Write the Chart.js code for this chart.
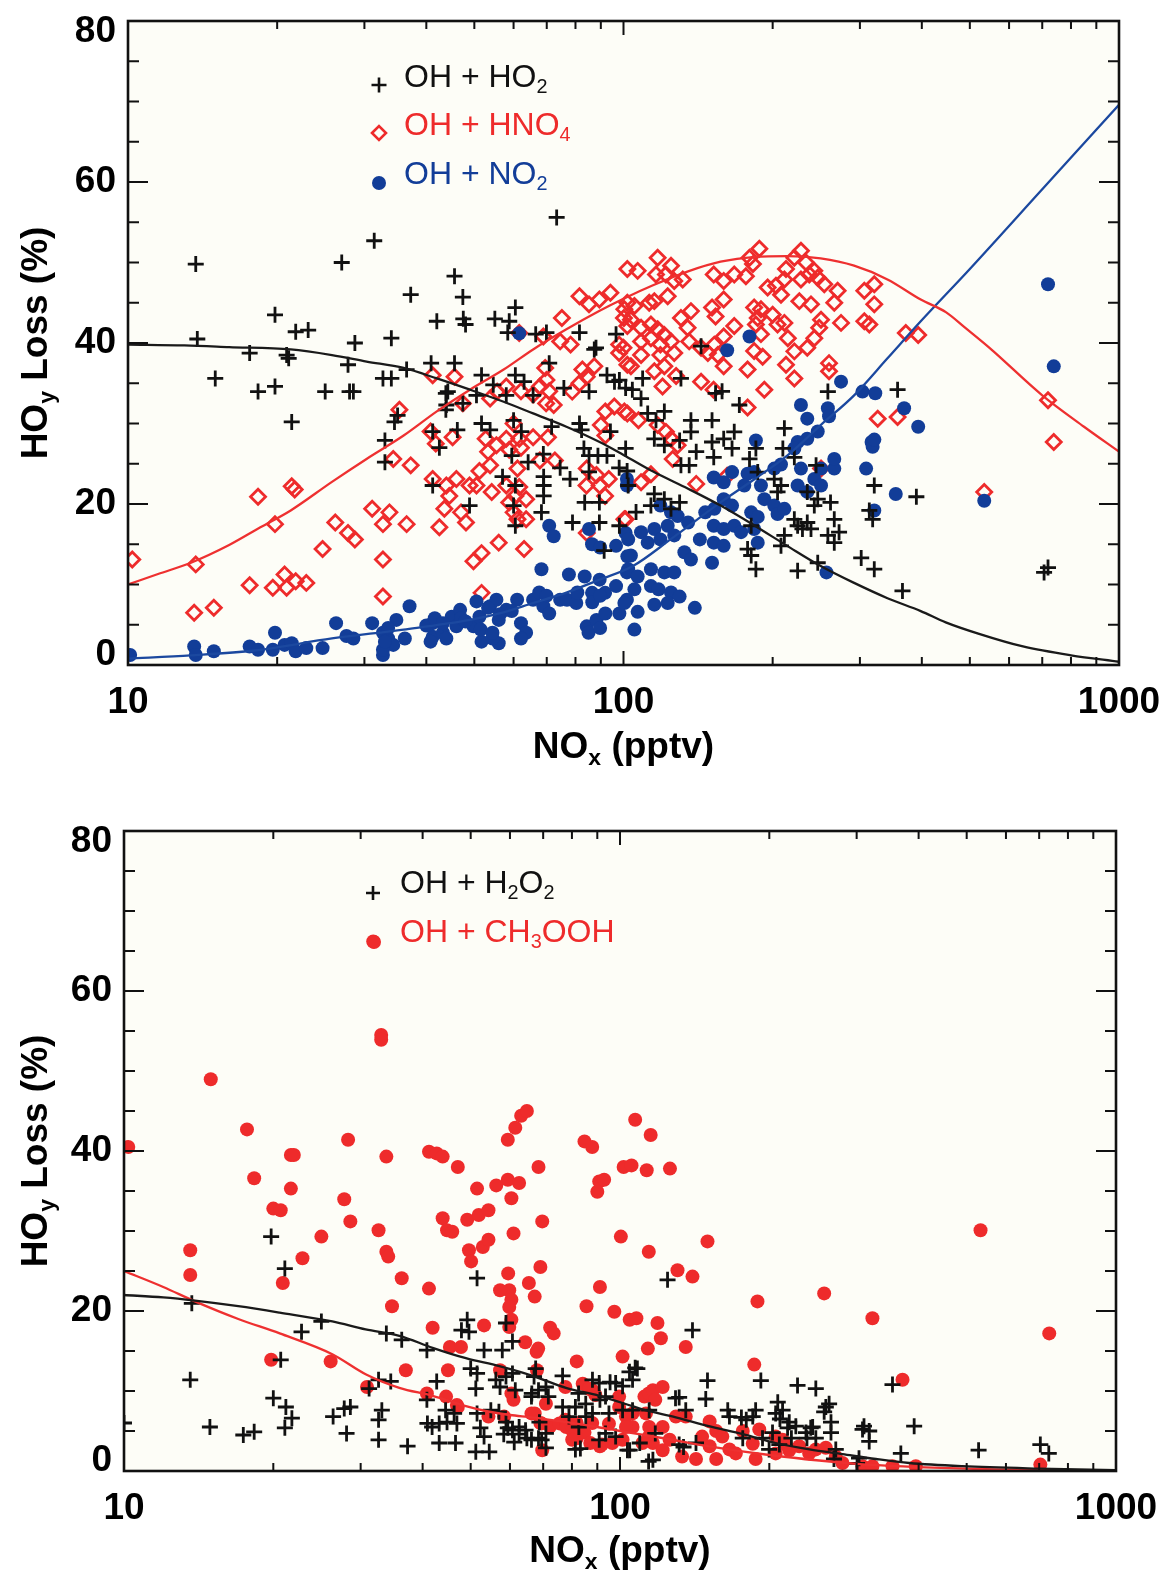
<!DOCTYPE html>
<html><head><meta charset="utf-8">
<script src="https://cdn.jsdelivr.net/npm/chart.js@4.4.1/dist/chart.umd.min.js"></script>
<style>
html,body{margin:0;padding:0;background:#fff;}
#wrap{position:relative;width:1165px;height:1577px;overflow:hidden;background:#fff;}
canvas{position:absolute;left:0;}
#c1{top:0;} #c2{top:790px;}
</style></head><body>
<div id="wrap"><canvas id="c1" width="1165" height="790"></canvas><canvas id="c2" width="1165" height="787"></canvas></div>
<script>
// ---------- axis ticks ----------
const xTickValues = [10,20,30,40,50,60,70,80,90,100,200,300,400,500,600,700,800,900,1000];
const xLabelValues = [10,100,1000];
const yTickValues = [0,5,10,15,20,25,30,35,40,45,50,55,60,65,70,75,80];
const yLabelValues = [0,20,40,60,80];

// ---------- top panel: [NOx pptv, HOy loss %] ----------
const topHO2Points = [
[13.7,49.8],[73.3,55.6],[31.4,52.7],[27,50.0],[45.6,48.3],[37.2,46.0],[47.4,45.7],[60.5,44.4],[42,42.7],[47.5,43],[48,42.3],[55,43],[58.8,42.7],[58.4,41.3],[66.5,41.1],[69.9,41.3],[81.5,41.3],[96.6,41.1],[28.7,40.0],[34.0,40.6],[88,39.4],[19.8,43.5],[21.8,41.4],[23.1,41.6],[13.8,40.5],[17.6,38.75],[20.9,38.5],[21.1,38.1],[15.0,35.6],[18.3,33.96],[19.8,34.6],[25,33.96],[28,33.96],[21.4,30.2],[27.8,37.3],
[32.7,35.6],[34.0,35.6],[36.5,36.7],[40.9,37.5],[45.6,37.5],[28.5,33.96],[51.7,36.0],[60.5,36.0],[70.8,37.5],[44.2,33.96],[50.5,33.5],[54.6,34.8],[58,33.5],[63,35.2],[65.7,33.5],[75.8,34.4],[85.2,33.96],[92.6,36.0],[98.1,35.4],[43.9,32.3],[47.4,32.5],[35,31.0],[34.5,30.2],[41.2,29.0],[46.2,29.2],[51.7,30.0],[53.8,29.2],[60,30.4],[62.2,29.0],[71.6,29.6],[81.5,30.0],[82.3,29.2],[94.1,29.0],[33,27.9],[42.5,27.0],[33,25.2],[59.5,26.0],[64.2,25.2],[68.9,26.2],[74.5,24.5],[85.2,26.0],[92.6,26.0],[101,26.9],[98,24.5],[101.7,24.1],[57,23.4],[69,23.4],[78,23.1],[41.2,22.3],[60.5,22.3],[69,22.3],[85.2,24.0],[69,21.0],[83.5,20.2],[89.4,20.2],[48.9,19.8],[68.3,18.96],[60,19.8],[89.4,17.7],[60.5,17.3],[98.1,17.3],[91.4,14.2],
[43.8,33.75],[43.8,31.7],[87.3,39.2],[95.9,35.2],[101,34.4],[83.2,26.9],[88.8,26.0],[78.9,17.7],
[143.4,39.6],[104.2,34.2],[109.3,35.6],[108.5,33.1],[130.6,35.6],[158.1,34.0],[153.4,33.75],[171.3,32.3],[258.5,33.96],[357.4,34.2],[111.9,31.25],[116.3,30.4],[120.9,31.5],[136.8,30.4],[150.9,30.4],[115.4,28.1],[120.9,27.3],[129.8,27.9],[136.8,28.96],[140.2,26.5],[150.9,27.7],[152.1,25.8],[159.3,28.1],[165.6,26.9],[167.3,28.96],[130.6,24.8],[135.7,24.8],[179.6,25.6],[185.0,26.9],[186.6,23.96],[211.2,29.4],[209.7,26.9],[221.2,25.8],[201.5,23.1],[204.6,21.5],[207.9,22.3],[244.7,24.8],[246.6,20.6],[234.9,21.5],[320.7,22.3],[313.4,19.2],[318.3,18.1],[390,20.9],[242.7,19.8],[261.7,20.2],[266.3,18.1],[221.2,18.1],[224.6,17.3],[229.7,16.9],[234.9,17.7],[239,16.9],[258.5,16.1],[272.3,16.5],[266.3,15.2],[211.2,16.1],[207.9,14.8],[181,17.3],[178,14.4],[181,13.6],[185,11.9],[224.6,11.7],[246.6,12.7],[301.8,13.3],[320.7,11.9],[365.6,9.2],[102.2,22.3],[115.4,21.25],[120.9,20.6],[129.8,20.2],[106,19.0],[113.6,19.8],[124.7,19.4],
[719,12.1],[706,11.5]
];
const topHNO4Points = [
[10.2,13.1],[13.7,12.5],[13.6,6.5],[14.9,7.1],[17.6,9.9],[19.6,9.6],[20.7,11.25],[20.9,9.6],[21.8,10.4],[22.9,10.2],[19.8,17.5],[18.3,20.9],[21.4,22.2],[21.7,21.8],[24.7,14.4],
[101.8,49.2],[81.5,45.8],[85.2,44.8],[89.4,45.4],[94.1,46.25],[101.8,45.0],[100.2,43.1],[101.8,42.1],[75.1,43.1],[61.6,41.25],[68.9,40.8],[74.5,40.2],[78.2,39.8],[98,39.8],[98,38.75],[101.8,37.3],[87.3,37.1],[82.6,36.7],[69.5,36.9],[41.2,36.0],[45.6,35.8],[69.9,35.4],[67.8,34.6],[70.8,34.0],[65.7,33.6],[62.1,34.0],[58,34.6],[55.6,33.96],[53.8,33.1],[78.8,33.96],[81.5,35.0],[84.3,35.8],[47.4,32.5],[69.8,32.5],[72.3,32.3],[35.3,31.7],[95.8,32.1],[91.9,31.5],[101.8,31.25],[90,29.8],[91.9,28.5],[60,30.0],[40.8,29.0],[45.2,28.3],[41.8,27.5],[58,28.1],[61.6,28.1],[65.7,28.3],[70.4,28.3],[52.7,28.1],[55.4,27.3],[53.3,26.5],[58.8,26.75],[62.1,27.0],[34.3,25.6],[37.2,24.8],[67.8,25.4],[72.7,25.4],[53.8,24.8],[51.2,24.1],[61.1,24.4],[84.3,24.4],[88.2,23.6],[93.4,23.1],[41.2,23.1],[43.9,22.3],[46,23.1],[48.9,22.3],[50.5,22.3],[54.2,21.5],[58,22.3],[61.6,22.1],[60.5,21.0],[63.6,20.6],[58.8,20.2],[60,18.96],[84.2,22.3],[89.5,22.3],[91.8,21.0],[44.5,21.0],[43.5,19.4],[47,18.96],[48.1,17.7],[31.1,19.4],[33.7,18.96],[32.7,17.5],[36.5,17.5],[26.2,17.7],[27.8,16.4],[28.7,15.6],[42.5,17.1],[61.1,18.1],[63.6,18.1],[84.3,16.4],[101,18.1],[56.0,15.2],[63,14.4],[32.7,13.1],[49.8,12.9],[51.7,13.9],[32.7,8.5],[51.7,8.96],
[188,51.7],[179.6,50.6],[182.5,49.8],[228.1,51.45],[221.2,50.6],[233.5,50.0],[242.7,48.96],[117.2,50.6],[124.7,49.6],[121.8,48.5],[126.6,47.7],[131.7,47.9],[106.8,48.96],[116.3,48.5],[122.8,45.8],[115.4,45.2],[152.1,48.5],[159.3,47.7],[167.3,48.5],[176.6,48.3],[212.8,49.2],[211.2,47.9],[228.1,47.9],[237.1,48.5],[246.6,48.1],[254.2,47.3],[270.5,46.5],[266.3,45.0],[195.4,46.9],[203.1,47.1],[207.9,46.0],[306.2,46.5],[320.7,47.3],[320.7,44.8],[306.2,42.7],[313.4,42.3],[159.3,45.4],[150.9,44.4],[153.4,43.3],[112.7,45.0],[105.2,44.6],[100.4,44.2],[130.6,43.1],[136.8,43.96],[134.7,41.9],[183.5,44.4],[189.4,44.2],[186.6,43.1],[200,43.5],[204.6,42.3],[211.2,42.5],[226.4,45.2],[239,44.8],[250.4,42.9],[248.3,41.9],[274.8,42.5],[103.5,42.9],[108.5,41.9],[113.6,42.3],[117.2,41.7],[120.9,41.0],[108.5,40.2],[113.6,40.6],[118.7,39.8],[124.7,40.2],[118.7,38.5],[126.6,38.75],[120.9,37.1],[100,39.4],[103.5,37.1],[108.5,38.5],[115.4,36.5],[119.9,34.6],[127.7,35.9],[135.7,40.2],[143.4,39.4],[152.5,39.8],[159.3,40.8],[148,38.75],[155,38.5],[159.3,37.1],[143.4,35.2],[152,34.2],[167.3,42.1],[185,42.3],[189.4,41.1],[183.5,39.0],[190.9,38.3],[178,36.7],[192.4,34.2],[214.6,40.6],[221.2,38.96],[234.9,39.4],[242.7,40.6],[212.8,37.3],[221.2,35.6],[259.9,37.5],[259.9,36.5],[178,32.0],[325.9,30.6],[357.4,30.8],[371.3,41.25],[393.3,41.0],[100.4,31.5],[107.2,30.4],[117.2,29.8],[121.8,28.96],[124.7,28.1],[128.6,27.3],[125.7,25.6],[113.6,23.7],[108.5,22.7],[100.4,18.1],[140.2,22.5],[161.9,23.5],[250.4,24.4],
[719,32.9],[738.5,27.7],[534.6,21.5]
];
const topNO2Points = [
[10.1,1.25],[13.6,2.3],[13.7,1.25],[14.9,1.7],[17.6,2.3],[18.3,1.9],[19.8,4.0],[19.6,1.9],[20.7,2.5],[21.4,2.7],[21.8,1.7],[22.9,2.1],[24.7,2.1],
[26.3,5.2],[27.6,3.6],[28.5,3.3],[31.1,5.2],[32.7,4.0],[33.5,3.3],[34.3,2.5],[32.7,1.25],[34.8,5.6],[37,7.3],[36.2,3.3],[41.2,5.2],[41.2,3.5],[43.2,4.0],[45,6.0],[46,4.8],[46.8,6.85],[49.8,4.8],[51.2,6.0],[53.8,7.3],[55.4,8.1],[56,5.6],[58,6.85],[51.7,2.9],[56,2.7],[61,8.1],[62.1,5.2],[63.6,4.0],[62.1,3.3],[65.7,8.1],[68.9,7.3],[70.8,6.4],[68.3,11.9],[77.6,11.25],[74.5,8.1],[76.9,8.1],[80.3,7.7],[84.3,4.8],[88.2,5.6],[91.9,6.4],[86.4,8.96],[91.8,8.96],[89.5,10.6],[96.6,9.8],[101.6,11.5],[101.6,8.1],[98.1,6.4],[70.8,17.3],[72.3,16.0],[85.2,16.9],[86.4,15.0],[96.6,14.8],[101,16.4],[101.8,13.5],[101.6,23.1],[101.6,22.3],[61.6,41.2],
[32.7,1.9],[33,2.9],[33.5,4.6],[40,4.9],[41.6,5.8],[43.2,5.2],[47,5.8],[48,5.4],[40.8,2.9],[43.9,3.3],[54.4,3.3],[50.5,7.9],[53.3,7.1],[56.3,6.3],[59.5,6.7],[67.6,9.0],[69.9,8.6],[80.7,9.0],[86.5,7.8],[89.7,8.6],[83.5,11.0],[89.7,14.6],[85,4.0],[89.7,4.6],[51.5,4.4],[54.4,4.0],
[179.6,40.8],[161.9,39.1],[274.8,35.2],[303.6,33.96],[322.2,33.75],[368.4,31.9],[393.3,29.6],[228.1,32.3],[234.9,30.6],[258.5,31.9],[259.9,30.9],[246.6,29.0],[234.9,28.1],[224.6,27.7],[221.2,26.9],[316.7,27.7],[318.3,27.1],[308.8,24.4],[185,27.9],[207.9,24.9],[201.5,24.4],[183.5,23.96],[178,23.75],[175.3,22.3],[189.4,22.3],[228.1,24.4],[242.7,23.1],[250.4,24.4],[266.3,24.4],[224.6,22.3],[234.9,21.5],[250.4,22.3],[266.3,25.6],[354.4,21.25],[320.7,19.2],[152.1,23.3],[159.3,22.7],[165.6,23.96],[159.3,20.6],[165.6,19.8],[152.5,19.4],[146.2,18.96],[152.1,17.3],[159.3,16.9],[181,18.96],[186.6,18.4],[192.4,20.6],[201.5,19.8],[204.6,18.75],[211.2,19.4],[167.3,17.3],[172.7,16.5],[183.5,16.9],[186.6,15.2],[142.6,15.6],[152.1,15.2],[159.3,14.8],[150.9,12.7],[256.8,11.5],[118.7,19.8],[124.7,18.96],[128.6,18.5],[135,17.7],[122.8,17.3],[115.4,16.9],[108.5,16.5],[102.2,15.6],[103.5,13.6],[111.9,15.2],[118.7,15.6],[126.6,16.1],[132.7,14.0],[136.8,13.1],[102.2,11.9],[106.8,11.0],[113.6,11.9],[120.9,11.5],[126.6,11.5],[105.2,9.4],[113.6,9.8],[117.7,9.4],[124.7,9.0],[129.8,8.5],[100.4,7.7],[106.8,6.6],[115.4,7.5],[122.8,7.7],[139.3,7.1],[105.2,4.4],
[738.5,37.1],[719,47.3],[534.6,20.4],[320.8,28.0]
];
const topHO2Model = [[10,39.8],[13,39.7],[16,39.5],[21.3,39.2],[25.8,38.5],[30.3,37.7],[36,36.9],[42,35.6],[49,34.2],[57.3,32.7],[65.7,31.25],[76.7,29.6],[89.5,27.7],[100,26.1],[115,24],[135,21.9],[157,19.8],[184,17.3],[214,14.8],[250,12.3],[292,10.2],[341,8.3],[398,6.7],[447,5.3],[520,3.9],[640,2.3],[800,1.2],[1000,0.4]];
const topHNO4Model = [[10,10],[11.5,11.3],[13.4,12.7],[16,14.9],[18.5,17.1],[21.3,19.2],[25.8,22.75],[30.3,25.6],[36,28.5],[42,31.5],[49,34.2],[57.3,36.7],[65.7,39.2],[76.7,41.7],[89.5,44.0],[100,45.5],[115,47.2],[135,48.9],[157,50.1],[184,50.7],[214,50.8],[250,50.5],[292,49.6],[341,47.9],[398,45.4],[448,43.8],[489,41.9],[550,39.3],[700,33.5],[850,29.6],[1000,26.5]];
const topNO2Model = [[10,0.8],[13.4,1.2],[18,1.8],[25.8,3.3],[36,4.4],[49,5.6],[57,6.5],[65.7,7.7],[76.7,9.0],[89.5,10.6],[104.5,12.3],[125,15.7],[157,20.2],[184,23.1],[214,26.0],[250,29.8],[292,33.5],[341,38.1],[398,42.7],[500,49.2],[700,59.1],[1000,69.6]];

// ---------- bottom panel ----------
const botH2O2Points = [
[19.8,29.3],[21.1,25.3],[13.7,20.96],[22.8,17.4],[25.0,18.7],[33.8,17.2],[36.3,16.4],[40.8,15.1],[49.2,18.9],[47.9,17.6],[49.6,17.4],[51.5,24.1],[20.7,13.9],[13.6,11.4],[20,9.1],[21.2,8.0],[21.8,6.6],[21.1,5.4],[14.9,5.5],[17.4,4.5],[18.3,4.9],[26.4,6.8],[27.8,7.8],[28.6,8.0],[28.1,4.7],[31.2,10.3],[32.6,11.4],[34.5,11.2],[32.6,6.4],[33.1,7.6],[32.6,3.9],[37.3,3.1],[40.8,8.9],[42.7,11.2],[10,6],
[53.2,15.1],[57.9,15.1],[60.7,16.2],[58.9,18.5],[50.0,12.8],[51.2,10.3],[56.2,11.4],[58.9,11.8],[60.7,12.2],[67.6,12.8],[67.1,11.8],[76.6,11.9],[40.9,5.95],[41.8,5.5],[43.2,5.95],[44.8,6.1],[46.3,7.2],[46.9,5.95],[44.5,7.6],[43.2,3.5],[46.6,3.5],[51.2,2.4],[54.5,2.4],[53.2,4.3],[52.3,5.4],[54.9,7.6],[57,7.4],[58.9,6.1],[60.7,5.1],[61.2,3.6],[62.6,5.5],[64.5,5.1],[68.8,6.1],[70.9,4.7],[66.3,3.9],[69.5,3.9],[66.3,9.3],[71.7,9.3],[76.6,8.0],[81.3,8.0],[85.3,8.4],[78.9,6.8],[82.6,5.5],[85.3,6.8],[88.0,7.2],[83.2,2.8],[88,11.4],[90.8,11.0],[98,11.0],[101.2,10.6],[106,11.4],[108.4,12.8],[93.5,9.3],[95,7.2],[101.2,7.6],[106,7.6],[90.8,3.9],[93.5,4.7],[98,4.3],[104.6,2.6],[109.6,3.5],
[57.3,10.5],[61.5,10.1],[66.4,9.7],[68.5,10.1],[70.9,10.5],[82.5,9.7],[91.1,8.9],[51.5,12.2],[51.5,7.2],[59.4,5.4],[62.6,4.6],[64.9,4.1],[58.3,4.6],[68.5,4.1],[70.9,2.9],
[124.7,23.9],[140,17.6],[150.1,11.3],[148.9,9.0],[131.6,9.2],[192.3,11.3],[228,10.7],[248.2,10.3],[354.3,10.8],[208,8.6],[206,7.2],[212.7,7.6],[260,8.0],[264,8.4],[164.9,7.6],[187.7,7.6],[185.2,6.8],[179.7,6.4],[166.2,6.8],[266.3,6.1],[266.3,4.8],[244.6,5.5],[237.1,4.8],[248.2,4.1],[226.2,5.6],[219.4,6.1],[203,4.8],[193.8,4.1],[176.8,4.1],[310.4,5.6],[318,5.0],[318,3.7],[308.3,5.2],[391.8,5.6],[368.3,2.2],[303.3,1.6],[116.5,1.4],[131.6,3.3],[142.3,3.5],[117.8,4.7],[135.7,7.6],[114.5,7.6],[209.5,3.3],[199.8,2.7],[272.3,2.7],
[528.4,2.6],[703.8,3.3],[732,2.2],[258,7.4],[95.5,11.1],[104.5,12.4],[107.3,12.9],[129.4,9.1],[175.7,6.7],[210.1,6.5],[81.3,2.7],[114.2,1.2],[134.3,3.0],[103.5,2.6],[217.7,5.4],[221.6,4.1],[238.2,4.1],[242.4,5.4],[270,1.5],[300.6,0.96]
];
const botCH3OOHPoints = [
[31.8,66.2],[33.0,54.5],[33.0,53.9],[14.96,48.97],[17.7,42.7],[10.2,40.5],[28.3,41.4],[21.7,39.5],[22.0,39.5],[33.8,39.3],[41.2,39.9],[42.7,39.7],[43.9,39.3],[47.1,38.0],[59.4,41.4],[61.5,42.9],[63.2,44.4],[64.9,45.0],[68.5,38.0],[84.8,41.2],[87.9,40.5],
[107.3,43.9],[115.3,42.0],[101.7,38.0],[105.5,38.2],[113.2,37.6],[126.1,37.8],
[18.3,36.6],[21.7,35.3],[20,32.8],[20.7,32.6],[27.8,33.96],[28.6,31.2],[32.6,30.1],[25,29.3],[22.9,26.6],[33.8,27.4],[34.1,26.8],[13.6,27.6],[13.6,24.5],[20.9,23.5],[36.3,24.1],[34.7,20.6],[41.2,22.8],[41.9,17.9],[19.8,13.9],[26.1,13.7],[30.9,10.5],[37,12.6],[45,12.6],[44.6,9.3],[47.1,8.0],[40.8,9.7],[45.4,15.5],[51.5,35.3],[49.2,31.4],[51.9,32.0],[54.3,32.6],[49.6,27.6],[50.1,26.2],[52.9,28.0],[54.3,28.9],[56.3,35.7],[59.4,36.4],[62.6,36.0],[60.4,34.1],[61,29.7],[59.5,24.7],[59.8,22.6],[60.4,21.4],[59.8,20.5],[60.4,18.9],[59.8,18.0],[57.3,22.6],[64.4,16.1],[67.3,21.8],[65.5,23.5],[69.1,25.5],[69.7,31.2],[67.9,14.9],[68,12.6],[72.3,17.9],[73.5,17.2],[81.8,13.7],[85.6,20.6],[91.1,23.0],[57.3,12.6],[60.4,9.7],[61,8.9],[69.7,2.6],[54.3,6.8],[77.6,6.4],[81.8,6.0],[84.8,4.8],[80.4,5.0],[87.9,6.0],[67.3,7.2],[69.1,6.0],[72.3,5.6],[77.6,10.5],[84.1,10.9],[87.9,10.1],[81.8,4.1],[87.1,3.5],[91.1,3.1],
[43.9,31.6],[44.8,30.1],[45.9,29.9],[46.9,8.25],[58.4,6.8],[68.4,15.3],[66.3,7.2],[70.9,8.4],[69.5,5.95],[75.5,5.95],[77.9,5.5],[80.1,5.1],[80.1,3.9],[86.6,10.3],[89.2,9.5],[91.9,3.3],[96.5,3.5],[101.2,3.9],[99.6,9.3],[99.6,8.0],[102.8,6.8],[106,7.2],[106,5.5],[101.2,14.3],[95,5.9],[102.8,5.5],[97.4,19.9],[104.6,18.9],[107.9,19.1],[113.8,15.3],[112,9.3],[114.3,9.7],[112.8,7.2],[111,3.5],[114.3,4.3],[53.2,18.2],[47.8,15.5],[100.4,29.3],[114.3,27.4],[90,34.9],[90.8,36.2],[92.9,36.4],
[150.1,28.7],[130.6,25.1],[140,24.3],[189.3,21.2],[258,22.2],[322.8,19.1],[119,18.5],[120.9,16.6],[135.7,15.5],[186.5,13.3],[371.2,11.4],[116.5,10.1],[121.9,10.5],[117.8,8.9],[129.6,6.8],[135.7,6.8],[114.5,5.5],[121.9,5.5],[125.9,3.9],[116.5,3.5],[121.9,2.6],[133.4,1.8],[151.6,6.2],[156.3,5.0],[146.4,4.3],[160.8,4.3],[151.6,3.1],[166.2,2.7],[142.3,1.5],[156.3,1.5],[176.8,5.0],[190.9,5.2],[185.2,3.4],[171.2,2.2],[187.7,1.5],[206,2.2],[212.7,3.9],[219.4,2.6],[229.8,3.1],[240.7,2.2],[248.2,2.7],[260,2.9],[272.3,1.8],[280.9,1.0],[308.3,0.6],[322.8,0.6],[354.3,0.6],[394.8,0.6],[206,4.3],[216,3.3],
[533.2,30.1],[733.5,17.2],[703.8,0.8]
];
const botH2O2Model = [[10,22],[12,21.7],[13.9,21.3],[17,20.6],[20.6,19.8],[26.3,18.7],[30.7,17.7],[35.9,16.9],[41.9,15.4],[48.9,14.1],[57.1,13.1],[66.6,11.9],[77.8,10.4],[90.8,9.4],[106,8.1],[111,7.7],[129.6,6.7],[151,5.6],[177,4.6],[206,3.5],[241,2.7],[281,2.1],[328,1.5],[383,1.0],[490,0.6],[700,0.3],[1000,0.1]];
const botCH3OOHModel = [[10,25],[12,23],[13.9,21.2],[17,19],[20.6,17.2],[26.3,14.6],[30.7,12.1],[35.9,10.4],[41.9,9.4],[48.9,8.1],[53.6,7.5],[60,7.0],[66.5,6.7],[78,6.1],[90,5.5],[100,5.0],[125,4.0],[150,3.1],[200,2.0],[300,0.9],[500,0.3],[1000,0.05]];

// ---------- styling ----------
const FONT = "'Liberation Sans', Arial, Helvetica, sans-serif";
const RED = '#ee2b2b', BLUE = '#123d98', BLACK = '#111111';
const toXY = arr => arr.map(p => ({x: p[0], y: p[1]}));

function richWidth(ctx, parts, size, weight) {
  let w = 0;
  parts.forEach(p => { ctx.font = `${weight} ${p.sub ? size*0.62 : size}px ${FONT}`; w += ctx.measureText(p.t).width; });
  return w;
}
function drawRich(ctx, parts, x, y, size, weight, color, align) {
  const w = richWidth(ctx, parts, size, weight);
  let cx = align === 'center' ? x - w/2 : x;
  ctx.fillStyle = color; ctx.textBaseline = 'alphabetic'; ctx.textAlign = 'left';
  parts.forEach(p => {
    const s = p.sub ? size*0.62 : size;
    ctx.font = `${weight} ${s}px ${FONT}`;
    ctx.fillText(p.t, cx, y + (p.sub ? size*0.2 : 0));
    cx += ctx.measureText(p.t).width;
  });
}
function drawMarker(ctx, m, x, y) {
  ctx.save();
  ctx.lineWidth = m.bw || 2.6; ctx.strokeStyle = m.color; ctx.fillStyle = m.color;
  ctx.beginPath();
  if (m.style === 'cross') {
    ctx.moveTo(x - m.r, y); ctx.lineTo(x + m.r, y); ctx.moveTo(x, y - m.r); ctx.lineTo(x, y + m.r); ctx.stroke();
  } else if (m.style === 'rectRot') {
    ctx.moveTo(x - m.r, y); ctx.lineTo(x, y - m.r); ctx.lineTo(x + m.r, y); ctx.lineTo(x, y + m.r); ctx.closePath(); ctx.stroke();
  } else {
    ctx.arc(x, y, m.r, 0, Math.PI*2); ctx.fill();
  }
  ctx.restore();
}

const decoPlugin = {
  id: 'deco',
  beforeDatasetsDraw(chart) {
    const {ctx, chartArea: a} = chart;
    ctx.save(); ctx.fillStyle = '#fdfdf7';
    ctx.fillRect(a.left, a.top, a.right - a.left, a.bottom - a.top);
    ctx.restore();
  },
  afterDatasetsDraw(chart) {
    const {ctx, chartArea: a} = chart;
    const x = chart.scales.x, y = chart.scales.y;
    ctx.save();
    ctx.strokeStyle = BLACK; ctx.lineWidth = 2;
    ctx.beginPath();
    x.ticks.forEach(t => {
      const px = x.getPixelForValue(t.value);
      const len = xLabelValues.includes(t.value) ? 14 : 8;
      ctx.moveTo(px, a.bottom); ctx.lineTo(px, a.bottom - len);
      ctx.moveTo(px, a.top); ctx.lineTo(px, a.top + len);
    });
    y.ticks.forEach(t => {
      const py = y.getPixelForValue(t.value);
      const len = yLabelValues.includes(t.value) ? 20 : 11;
      ctx.moveTo(a.left, py); ctx.lineTo(a.left + len, py);
      ctx.moveTo(a.right, py); ctx.lineTo(a.right - len, py);
    });
    ctx.stroke();
    ctx.lineWidth = 2.6;
    ctx.strokeRect(a.left, a.top, a.right - a.left, a.bottom - a.top);
    ctx.restore();
  },
  afterDraw(chart, args, o) {
    const {ctx, chartArea: a} = chart;
    ctx.save();
    drawRich(ctx, [{t:'NO'},{t:'x',sub:true},{t:' (pptv)'}], (a.left + a.right)/2, a.bottom + o.xTitleGap, 37, 'bold', '#000', 'center');
    ctx.save();
    ctx.translate(47, (a.top + a.bottom)/2); ctx.rotate(-Math.PI/2);
    drawRich(ctx, [{t:'HO'},{t:'y',sub:true},{t:' Loss (%)'}], 0, 0, 37, 'bold', '#000', 'center');
    ctx.restore();
    o.legend.forEach(it => {
      drawMarker(ctx, it.marker, it.mx, it.my);
      drawRich(ctx, it.parts, it.tx, it.ty, 32, 'normal', it.color, 'left');
    });
    ctx.restore();
  }
};

function scatterSet(label, data, style, order) {
  return Object.assign({label, data: toXY(data), showLine: false, order}, style);
}
function lineSet(label, data, color) {
  return {label, data: toXY(data), showLine: true, pointRadius: 0, borderColor: color, borderWidth: 2.3,
          cubicInterpolationMode: 'monotone', fill: false, order: 0};
}

function makeChart(id, cfg) {
  return new Chart(document.getElementById(id), {
    type: 'scatter',
    data: { datasets: cfg.datasets },
    plugins: [decoPlugin],
    options: {
      responsive: false, animation: false, devicePixelRatio: 1,
      layout: { padding: { left: 0, right: cfg.padRight, top: cfg.padTop, bottom: 0 } },
      plugins: { legend: { display: false }, tooltip: { enabled: false },
                 deco: { legend: cfg.legend, xTitleGap: cfg.xTitleGap } },
      scales: {
        x: {
          type: 'logarithmic', min: 10, max: 1000,
          afterBuildTicks: s => { s.ticks = xTickValues.map(v => ({value: v, major: xLabelValues.includes(v)})); },
          afterFit: s => { s.height = cfg.xHeight; s.paddingLeft = 0; s.paddingRight = 0; },
          grid: { display: false, drawTicks: false }, border: { display: false },
          ticks: { autoSkip: false, maxRotation: 0, minRotation: 0, padding: 16, color: '#000',
                   font: { family: FONT, size: 37, weight: 'bold' },
                   callback: v => xLabelValues.includes(v) ? String(v) : '' }
        },
        y: {
          type: 'linear', min: 0, max: 80,
          afterBuildTicks: s => { s.ticks = yTickValues.map(v => ({value: v})); },
          afterFit: s => { s.width = cfg.yWidth; s.paddingTop = 0; s.paddingBottom = 0; },
          grid: { display: false, drawTicks: false }, border: { display: false },
          ticks: { autoSkip: false, padding: 12, color: '#000',
                   font: c => {
                     const v = c.tick ? c.tick.value : null;
                     return { family: FONT, size: 37, weight: 'bold', lineHeight: v === 80 ? 0.6 : (v === 0 ? 0.55 : 1.2) };
                   },
                   callback: v => {
                     if (!yLabelValues.includes(v)) return '';
                     if (v === 80) return ['', '80'];
                     if (v === 0) return ['0', ''];
                     return String(v);
                   } }
        }
      }
    }
  });
}

const crossStyle = { pointStyle: 'cross', pointRadius: 8, borderColor: BLACK, backgroundColor: BLACK, borderWidth: 2.8 };
const diamondStyle = { pointStyle: 'rectRot', pointRadius: 7.5, borderColor: RED, backgroundColor: 'rgba(255,255,255,0)', borderWidth: 2.8 };
const blueDotStyle = { pointStyle: 'circle', pointRadius: 7, backgroundColor: BLUE, borderColor: BLUE, borderWidth: 0 };
const redDotStyle = { pointStyle: 'circle', pointRadius: 7, backgroundColor: RED, borderColor: RED, borderWidth: 0 };

makeChart('c1', {
  padTop: 21, padRight: 46, yWidth: 128, xHeight: 125, xTitleGap: 93,
  datasets: [
    lineSet('OH + HO2 model', topHO2Model, '#1a1a1a'),
    lineSet('OH + HNO4 model', topHNO4Model, '#ee3030'),
    lineSet('OH + NO2 model', topNO2Model, '#1b489f'),
    scatterSet('OH + HO2', topHO2Points, crossStyle, 1),
    scatterSet('OH + NO2', topNO2Points, blueDotStyle, 2),
    scatterSet('OH + HNO4', topHNO4Points, diamondStyle, 3)
  ],
  legend: [
    { marker: {style:'cross', r:7.5, color:BLACK}, mx: 379, my: 85, tx: 404, ty: 87, color: BLACK, parts: [{t:'OH + HO'},{t:'2',sub:true}] },
    { marker: {style:'rectRot', r:7, color:RED}, mx: 379, my: 133, tx: 404, ty: 135, color: RED, parts: [{t:'OH + HNO'},{t:'4',sub:true}] },
    { marker: {style:'circle', r:7, color:BLUE}, mx: 379, my: 183, tx: 404, ty: 184, color: BLUE, parts: [{t:'OH + NO'},{t:'2',sub:true}] }
  ]
});

makeChart('c2', {
  padTop: 41, padRight: 49, yWidth: 124, xHeight: 106, xTitleGap: 91,
  datasets: [
    lineSet('OH + H2O2 model', botH2O2Model, '#1a1a1a'),
    lineSet('OH + CH3OOH model', botCH3OOHModel, '#ee3030'),
    scatterSet('OH + H2O2', botH2O2Points, crossStyle, 1),
    scatterSet('OH + CH3OOH', botCH3OOHPoints, redDotStyle, 2)
  ],
  legend: [
    { marker: {style:'cross', r:7, color:BLACK}, mx: 373, my: 103, tx: 400, ty: 103, color: BLACK, parts: [{t:'OH + H'},{t:'2',sub:true},{t:'O'},{t:'2',sub:true}] },
    { marker: {style:'circle', r:7, color:RED}, mx: 374, my: 152, tx: 400, ty: 152, color: RED, parts: [{t:'OH + CH'},{t:'3',sub:true},{t:'OOH'}] }
  ]
});
</script>
</body></html>
